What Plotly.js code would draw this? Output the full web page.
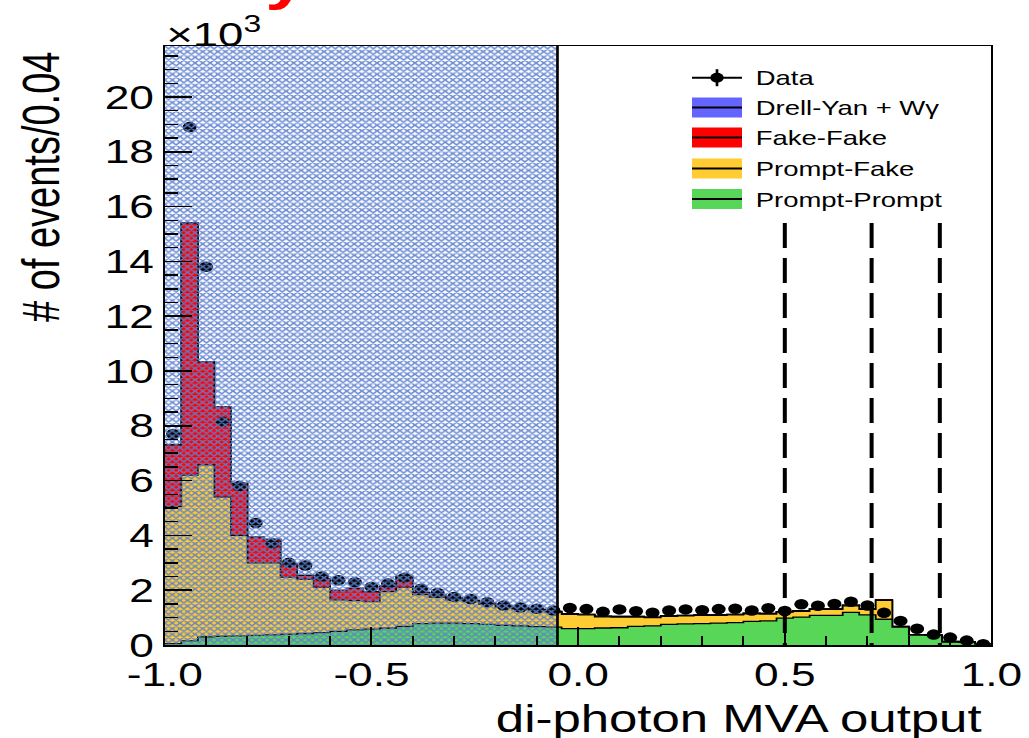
<!DOCTYPE html>
<html>
<head>
<meta charset="utf-8">
<script src="https://cdn.plot.ly/plotly-3.0.1.min.js"></script>
<style>
  html, body { margin: 0; padding: 0; background: #fff; overflow: hidden; }
  #frame { width: 1029px; height: 738px; overflow: hidden; }
  #chart { width: 768px; height: 738px; transform-origin: 0 0; }
</style>
</head>
<body>
<div id="frame"><div id="chart"></div></div>
<script>
// Di-photon MVA output: 50 bins of width 0.04 between -1 and 1
const binEdges = [
  -1.00, -0.96, -0.92, -0.88, -0.84, -0.80, -0.76, -0.72, -0.68, -0.64,
  -0.60, -0.56, -0.52, -0.48, -0.44, -0.40, -0.36, -0.32, -0.28, -0.24,
  -0.20, -0.16, -0.12, -0.08, -0.04,  0.00,  0.04,  0.08,  0.12,  0.16,
   0.20,  0.24,  0.28,  0.32,  0.36,  0.40,  0.44,  0.48,  0.52,  0.56,
   0.60,  0.64,  0.68,  0.72,  0.76,  0.80,  0.84,  0.88,  0.92,  0.96,
   1.00
];

// Events per bin, in units of 10^3
const dataCounts = [
  7.70, 18.90, 13.80, 8.15, 5.80, 4.45, 3.70, 3.00, 2.90, 2.50,
  2.36, 2.29, 2.12, 2.24, 2.45, 2.05, 1.90, 1.75, 1.68, 1.56,
  1.44, 1.37, 1.32, 1.26, 1.35, 1.31, 1.21, 1.30, 1.23, 1.18,
  1.26, 1.30, 1.27, 1.31, 1.32, 1.26, 1.34, 1.24, 1.49, 1.43,
  1.50, 1.58, 1.44, 1.18, 0.88, 0.59, 0.38, 0.27, 0.16, 0.03
];

const drellYanWg = [
  0, 0, 0, 0, 0, 0, 0, 0, 0, 0,
  0, 0, 0, 0, 0, 0, 0, 0, 0, 0,
  0, 0, 0, 0, 0, 0, 0, 0, 0, 0,
  0, 0, 0, 0, 0, 0, 0, 0, 0, 0,
  0, 0, 0, 0, 0, 0, 0, 0, 0, 0
];

const fakeFake = [
  2.25, 9.20, 3.76, 3.30, 1.90, 0.94, 0.85, 0.47, 0.14, 0.32,
  0.34, 0.45, 0.37, 0.20, 0.40, 0.08, 0.07, 0.06, 0.05, 0.05,
  0.04, 0.04, 0.03, 0.03, 0.02, 0.02, 0.02, 0.02, 0.02, 0.02,
  0.02, 0.02, 0.02, 0.02, 0.02, 0.02, 0.02, 0.02, 0.02, 0.02,
  0.02, 0.02, 0.02, 0.02, 0.01, 0.01, 0.01, 0.01, 0.00, 0.00
];

const promptFake = [
  5.00, 6.05, 6.27, 5.08, 3.67, 2.65, 2.63, 2.08, 1.98, 1.65,
  1.15, 1.07, 1.00, 1.33, 1.42, 1.06, 0.95, 0.85, 0.80, 0.73,
  0.66, 0.62, 0.60, 0.55, 0.52, 0.50, 0.41, 0.39, 0.34, 0.30,
  0.30, 0.29, 0.30, 0.28, 0.28, 0.28, 0.25, 0.22, 0.21, 0.22,
  0.22, 0.24, 0.20, 0.69, 0.02, 0.01, 0.01, 0.01, 0.01, 0.00
];

const promptPrompt = [
  0.05, 0.15, 0.30, 0.32, 0.33, 0.35, 0.37, 0.40, 0.42, 0.45,
  0.50, 0.55, 0.58, 0.62, 0.68, 0.78, 0.80, 0.80, 0.78, 0.75,
  0.72, 0.70, 0.67, 0.65, 0.60, 0.60, 0.62, 0.63, 0.68, 0.70,
  0.75, 0.77, 0.78, 0.80, 0.82, 0.86, 0.88, 0.98, 1.02, 1.08,
  1.08, 1.19, 1.10, 0.94, 0.65, 0.36, 0.35, 0.11, 0.10, 0.03
];

const xTickVals = [-1, -0.5, 0, 0.5, 1];
const xTickText = ['-1.0', '-0.5', '0.0', '0.5', '1.0'];
const yTickVals = [0, 2, 4, 6, 8, 10, 12, 14, 16, 18, 20];
const yTickText = ['0', '2', '4', '6', '8', '10', '12', '14', '16', '18', '20'];

// Blinded region and category boundaries
const blindedRange = [-1.0, -0.05];
const cutValues = [0.5, 0.71, 0.875];

const legendNames = ['Data', 'Drell-Yan + Wγ', 'Fake-Fake', 'Prompt-Fake', 'Prompt-Prompt'];
const colors = { dy: '#6464ff', ff: '#ff0000', pf: '#ffcc33', pp: '#58d658' };

// ---- page geometry (drawn at 768 px wide, then widened horizontally) ----
const PAGE_W = 1029, PLOT_W = 768, H = 738;
const S = PAGE_W / PLOT_W;
const M = { l: 123, r: 28, t: 46, b: 93 };
const PW = PLOT_W - M.l - M.r, PH = H - M.t - M.b;
const Y_TOP = 21.86;
const FONT = 'Liberation Sans, Arial, Helvetica, sans-serif';

// page pixel -> paper fraction
const px = ix => (ix / S - M.l) / PW;
const py = iy => (H - M.b - iy) / PH;

// ---- stacked totals ----
const ppTop = promptPrompt.slice();
const pfTop = ppTop.map((v, i) => v + promptFake[i]);
const ffTop = pfTop.map((v, i) => v + fakeFake[i]);
const dyTop = ffTop.map((v, i) => v + drellYanWg[i]);
const binCenters = dataCounts.map((_, i) => (binEdges[i] + binEdges[i + 1]) / 2);

function stepTrace(tops, fill) {
  return {
    type: 'scatter', mode: 'lines',
    x: binEdges, y: tops.concat([tops[tops.length - 1]]),
    line: { shape: 'hv', color: '#000', width: 1.3 },
    fill: 'tozeroy', fillcolor: fill,
    hoverinfo: 'skip', showlegend: false
  };
}

const traces = [
  stepTrace(dyTop, colors.dy),
  stepTrace(ffTop, colors.ff),
  stepTrace(pfTop, colors.pf),
  stepTrace(ppTop, colors.pp),
  {
    type: 'scatter', mode: 'markers', x: binCenters, y: dataCounts,
    marker: { color: '#000', size: 10.5 }, showlegend: false, hoverinfo: 'skip'
  },
  // hatched overlay on the blinded region
  {
    type: 'scatter', mode: 'none',
    x: [blindedRange[0], blindedRange[1], blindedRange[1], blindedRange[0], blindedRange[0]],
    y: [0, 0, Y_TOP, Y_TOP, 0],
    fill: 'toself', fillcolor: 'rgba(0,0,0,0)',
    fillpattern: { shape: 'x', size: 4, solidity: 0.6, fgcolor: '#5d80cf', fgopacity: 0.9, bgcolor: 'rgba(0,0,0,0)' },
    showlegend: false, hoverinfo: 'skip'
  }
];

const shapes = [];
const annotations = [];

// blinded-region boundary
shapes.push({ type: 'line', xref: 'x', yref: 'paper', x0: blindedRange[1], x1: blindedRange[1], y0: 0, y1: 1,
  line: { color: '#000', width: 2 } });

// category boundaries, drawn up to the stack maximum
const cutTop = Math.max(...dyTop);
cutValues.forEach(v => shapes.push({
  type: 'line', xref: 'x', yref: 'y', x0: v, x1: v, y0: cutTop, y1: 0,
  line: { color: '#000', width: 3, dash: '25px,10px' }
}));

// ---- legend ----
const legX0 = 692, legX1 = 742, legTextX = 753;
const rowY = [77.7, 107.5, 137.5, 168.5, 199];
const legFill = [null, colors.dy, colors.ff, colors.pf, colors.pp];
// Data entry: line, error bar and marker
shapes.push({ type: 'line', xref: 'paper', yref: 'paper', x0: px(legX0), x1: px(legX1), y0: py(rowY[0]), y1: py(rowY[0]),
  line: { color: '#000', width: 2 } });
const mx = (legX0 + legX1) / 2;
shapes.push({ type: 'line', xref: 'paper', yref: 'paper', x0: px(mx), x1: px(mx), y0: py(rowY[0] + 8.5), y1: py(rowY[0] - 8.5),
  line: { color: '#000', width: 2 } });
shapes.push({ type: 'circle', xref: 'paper', yref: 'paper',
  x0: px(mx - 5 * S), x1: px(mx + 5 * S), y0: py(rowY[0] + 5), y1: py(rowY[0] - 5),
  fillcolor: '#000', line: { color: '#000', width: 0 } });
for (let k = 1; k < legendNames.length; k++) {
  shapes.push({ type: 'rect', xref: 'paper', yref: 'paper', x0: px(legX0), x1: px(legX1),
    y0: py(rowY[k] + 10), y1: py(rowY[k] - 10), fillcolor: legFill[k], line: { width: 0 } });
  shapes.push({ type: 'line', xref: 'paper', yref: 'paper', x0: px(legX0), x1: px(legX1),
    y0: py(rowY[k]), y1: py(rowY[k]), line: { color: '#000', width: 2 } });
}
legendNames.forEach((name, k) => annotations.push({
  xref: 'paper', yref: 'paper', x: px(legTextX), y: py(rowY[k]), xanchor: 'left', yanchor: 'middle',
  text: name, showarrow: false, font: { family: FONT, size: 20.5, color: '#000' }
}));

// ---- axis titles and multiplier ----
annotations.push({
  xref: 'paper', yref: 'paper', x: px(41.5), y: py(50), xanchor: 'center', yanchor: 'top',
  text: '# of events/0.04', textangle: -90, showarrow: false,
  font: { family: FONT, size: 38, color: '#000' }
});
annotations.push({
  xref: 'paper', yref: 'paper', x: px(985), y: py(696), xanchor: 'right', yanchor: 'top',
  text: 'di-photon MVA output', showarrow: false,
  font: { family: FONT, size: 38, color: '#000' }
});
annotations.push({
  xref: 'paper', yref: 'paper', x: px(164), y: 1, xanchor: 'left', yanchor: 'bottom', yshift: -9,
  text: '×10<sup>3</sup>', showarrow: false,
  font: { family: FONT, size: 34, color: '#000' }
});
annotations.push({
  xref: 'paper', yref: 'paper', x: px(262), y: py(12), xanchor: 'left', yanchor: 'bottom',
  text: '<b>y</b>', showarrow: false,
  font: { family: FONT, size: 56, color: '#ff0000' }
});

const layout = {
  width: PLOT_W, height: H,
  margin: M,
  paper_bgcolor: '#fff', plot_bgcolor: '#fff',
  showlegend: false,
  font: { family: FONT, color: '#000' },
  xaxis: {
    range: [-1, 1], showgrid: false, zeroline: false,
    showline: true, mirror: true, linecolor: '#000', linewidth: 1.5,
    ticks: 'inside', ticklen: 18, tickwidth: 1.5, tickcolor: '#000',
    tickmode: 'array', tickvals: xTickVals, ticktext: xTickText,
    tickfont: { family: FONT, size: 33, color: '#000' },
    minor: { ticks: 'inside', ticklen: 9, tickwidth: 1.5, tickcolor: '#000', dtick: 0.1, tick0: 0, showgrid: false }
  },
  yaxis: {
    range: [0, Y_TOP], showgrid: false, zeroline: false,
    showline: true, mirror: true, linecolor: '#000', linewidth: 1.5,
    ticks: 'inside', ticklen: 20, tickwidth: 1.5, tickcolor: '#000',
    tickmode: 'array', tickvals: yTickVals, ticktext: yTickText,
    tickfont: { family: FONT, size: 33, color: '#000' },
    minor: { ticks: 'inside', ticklen: 10, tickwidth: 1.5, tickcolor: '#000', dtick: 0.5, tick0: 0, showgrid: false }
  },
  shapes: shapes,
  annotations: annotations
};

const chart = document.getElementById('chart');
Plotly.newPlot(chart, traces, layout, { staticPlot: true, displayModeBar: false }).then(() => {
  chart.style.transform = 'scaleX(' + S + ')';
});
</script>
</body>
</html>
